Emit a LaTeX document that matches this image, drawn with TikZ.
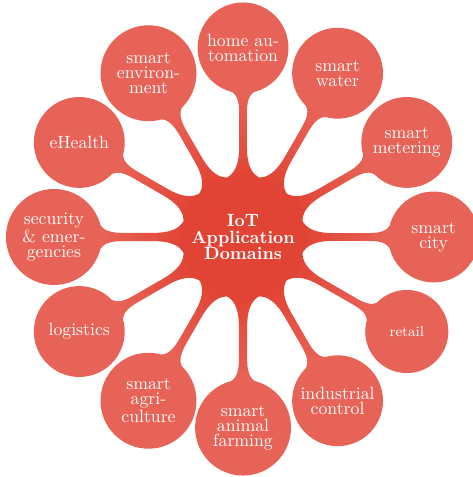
\documentclass[tikz,border=0pt]{standalone}
\usepackage{tikz}
\usetikzlibrary{mindmap,backgrounds}
\definecolor{hubred}{HTML}{E14434}
\definecolor{leafred}{HTML}{E86357}
\tikzset{
  hub/.style={concept, concept color=hubred, text=white, minimum size=2.4cm, text width=2.1cm, inner sep=0pt, align=center, font=\bfseries\fontsize{10}{9.4}\selectfont},
  leaf/.style={concept, concept color=leafred, text=white, minimum size=1.76cm, text width=1.6cm, inner sep=0pt, align=center, font=\fontsize{10}{8.4}\selectfont},
  tallleaf/.style={leaf, minimum size=1.86cm},
  smallleaf/.style={leaf, minimum size=1.39cm, font=\footnotesize},
  link/.style={circle connection bar switch color=from (hubred) to (leafred)}
}

\begin{document}
\begin{tikzpicture}[mindmap]
  \useasboundingbox (-4.82,-4.76) rectangle (4.56,4.70);
  \node[hub] (iot) at (0,0) {IoT\\Application\\Domains};

  \node[leaf] (home) at (90:3.75) {home au-\\tomation};
  \node[leaf] (water) at (60:3.75) {smart\\water};
  \node[leaf] (meter) at (30:3.75) {smart\\metering};
  \node[leaf] (city) at (0:3.78) {smart\\city};
  \node[smallleaf] (retail) at (-30:3.75) {retail};
  \node[leaf] (industry) at (-60:3.75) {industrial\\control};
  \node[tallleaf] (farm) at (-90:3.78) {smart\\animal\\farming};
  \node[tallleaf] (agri) at (-120:3.75) {smart\\agri-\\culture};
  \node[leaf] (logistics) at (-150:3.75) {logistics};
  \node[tallleaf] (security) at (180:3.75) {security\\\& emer-\\gencies};
  \node[leaf] (health) at (150:3.75) {eHealth};
  \node[tallleaf] (environment) at (120:3.75) {smart\\environ-\\ment};

  \begin{scope}[on background layer]
    \path (iot) to[link] (home);
    \path (iot) to[link] (water);
    \path (iot) to[link] (meter);
    \path (iot) to[link] (city);
    \path (iot) to[link] (retail);
    \path (iot) to[link] (industry);
    \path (iot) to[link] (farm);
    \path (iot) to[link] (agri);
    \path (iot) to[link] (logistics);
    \path (iot) to[link] (security);
    \path (iot) to[link] (health);
    \path (iot) to[link] (environment);
  \end{scope}
\end{tikzpicture}
\end{document}
